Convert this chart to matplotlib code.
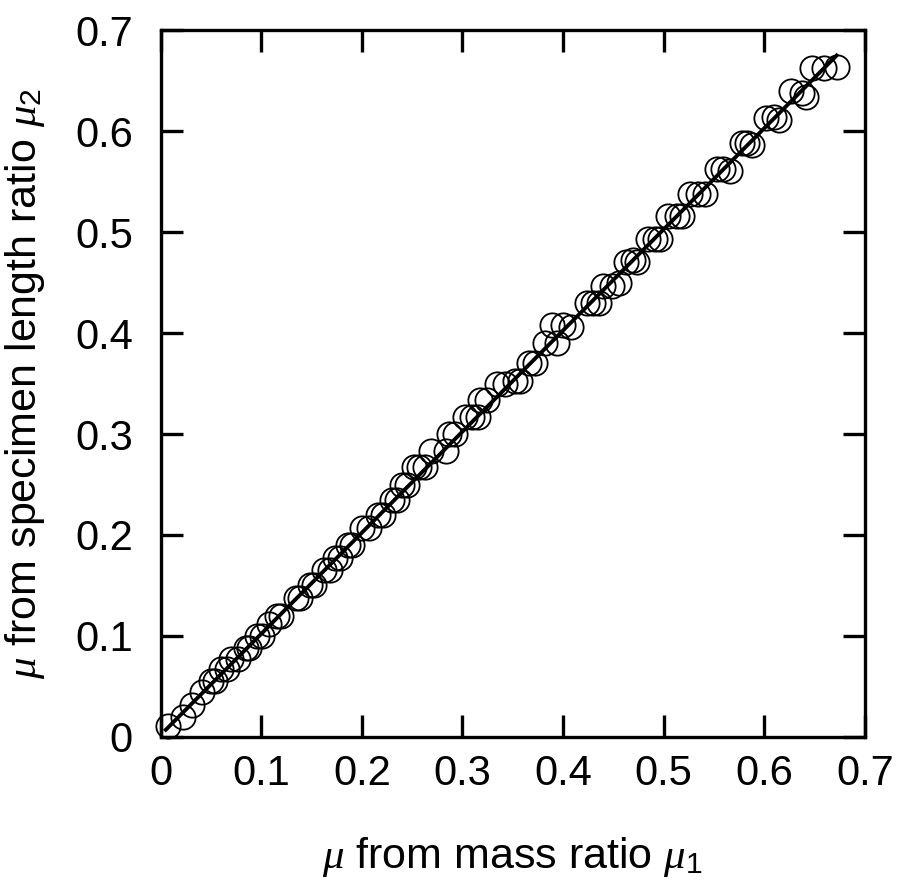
import matplotlib
matplotlib.use("Agg")
import matplotlib.pyplot as plt

# mu from mass ratio (mu1) and mu from specimen length ratio (mu2)
mu1 = [0.007, 0.022, 0.031, 0.041, 0.050, 0.054, 0.060, 0.066, 0.070, 0.077,
       0.085, 0.088, 0.096, 0.101, 0.108, 0.116, 0.120, 0.134, 0.138, 0.148,
       0.152, 0.162, 0.168, 0.173, 0.178, 0.186, 0.190, 0.200, 0.207, 0.216,
       0.221, 0.230, 0.235, 0.240, 0.245, 0.252, 0.257, 0.263, 0.269, 0.284,
       0.287, 0.293, 0.303, 0.309, 0.315, 0.317, 0.324, 0.334, 0.342, 0.352,
       0.357, 0.366, 0.372, 0.382, 0.394, 0.389, 0.400, 0.408, 0.424, 0.430,
       0.436, 0.440, 0.449, 0.456, 0.463, 0.470, 0.474, 0.484, 0.491, 0.496,
       0.504, 0.513, 0.518, 0.526, 0.534, 0.541, 0.553, 0.559, 0.566, 0.578,
       0.583, 0.588, 0.602, 0.610, 0.615, 0.627, 0.638, 0.642, 0.648, 0.659,
       0.672]
mu2 = [0.011, 0.020, 0.032, 0.044, 0.055, 0.055, 0.067, 0.067, 0.077, 0.077,
       0.088, 0.088, 0.100, 0.100, 0.112, 0.120, 0.120, 0.138, 0.138, 0.150,
       0.150, 0.165, 0.165, 0.177, 0.177, 0.190, 0.190, 0.207, 0.207, 0.220,
       0.220, 0.235, 0.235, 0.250, 0.250, 0.267, 0.267, 0.267, 0.283, 0.283,
       0.300, 0.300, 0.317, 0.317, 0.317, 0.334, 0.334, 0.350, 0.350, 0.353,
       0.353, 0.370, 0.370, 0.390, 0.390, 0.408, 0.408, 0.406, 0.430, 0.430,
       0.430, 0.447, 0.447, 0.450, 0.470, 0.472, 0.470, 0.493, 0.493, 0.493,
       0.516, 0.516, 0.516, 0.538, 0.538, 0.538, 0.563, 0.563, 0.561, 0.588,
       0.588, 0.586, 0.613, 0.614, 0.611, 0.640, 0.638, 0.634, 0.663, 0.663,
       0.664]
fit_x = [0.005, 0.672]
fit_y = [0.007, 0.675]

xticks = [0, 0.1, 0.2, 0.3, 0.4, 0.5, 0.6, 0.7]
xticklabels = ["0", "0.1", "0.2", "0.3", "0.4", "0.5", "0.6", "0.7"]

plt.rcParams['font.family'] = ['Liberation Sans', 'DejaVu Sans']
plt.rcParams['mathtext.fontset'] = 'custom'
plt.rcParams['mathtext.rm'] = 'Liberation Sans'
plt.rcParams['mathtext.it'] = 'Liberation Serif:italic'

fig = plt.figure(figsize=(8.98, 8.91), dpi=100)
ax = fig.add_axes([0.179, 0.173, 0.784, 0.793])

ax.plot(mu1, mu2, linestyle='none', marker='o', markersize=17.5,
        markerfacecolor='none', markeredgecolor='black', markeredgewidth=1.3,
        clip_on=False, zorder=3)
ax.plot(fit_x, fit_y, color='black', linewidth=2.8, zorder=4)

ax.set_xlim(0, 0.7)
ax.set_ylim(0, 0.7)
ax.set_xticks(xticks)
ax.set_xticklabels(xticklabels)
ax.set_yticks(xticks)
ax.set_yticklabels(xticklabels)

for s in ax.spines.values():
    s.set_linewidth(2.4)
ax.tick_params(direction='in', length=16, width=2.4, labelsize=30,
               top=True, right=True)
ax.tick_params(axis='x', pad=12)
ax.tick_params(axis='y', pad=20)

ax.set_xlabel(r'$\mu$ from mass ratio $\mu_1$', fontsize=31, labelpad=30)
ax.set_ylabel(r'$\mu$ from specimen length ratio $\mu_2$', fontsize=31, labelpad=20)

fig.savefig('out.png', dpi=100)
